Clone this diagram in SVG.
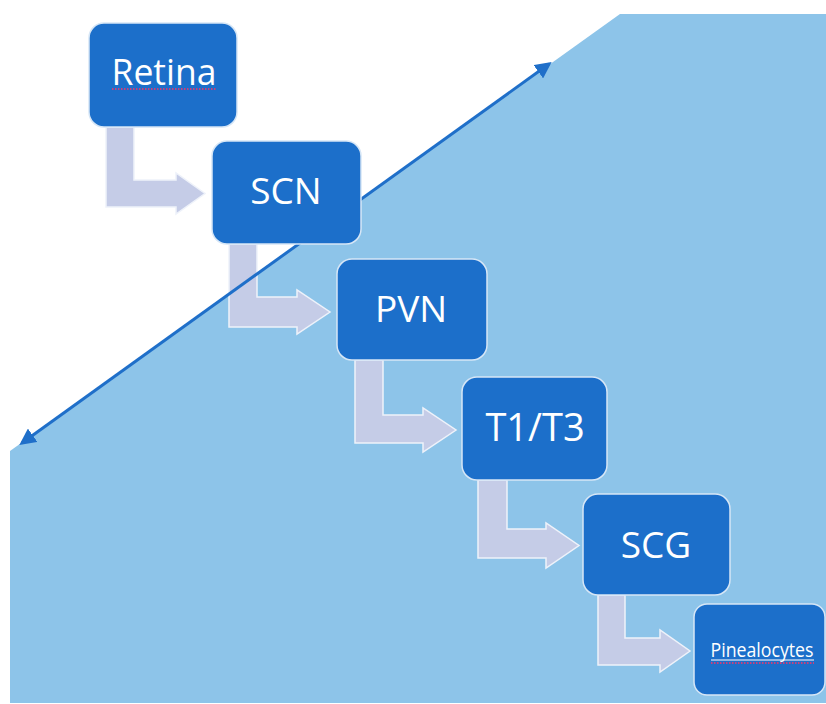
<svg xmlns="http://www.w3.org/2000/svg" width="826" height="704" viewBox="0 0 826 704">
<defs>
<style>
.bg{fill:#8dc4e9;}
.box{fill:#1c6fca;stroke:#d6e6f6;stroke-width:1.5;}
.lbl{font-family:"Open Sans","Liberation Sans",sans-serif;fill:#ffffff;text-anchor:middle;}
.big{font-size:37px;}
.small{font-size:20px;}
.elbow{fill:#c5cce7;stroke:#eef2fa;stroke-width:1.5;stroke-linejoin:miter;}
.axis{stroke:#1f6fc9;stroke-width:3;fill:none;}
.wavy{stroke:#c8407c;stroke-width:2;stroke-dasharray:1.5 1.5;}
.uline{stroke:#ffffff;stroke-width:1.2;}
</style>
<marker id="ah" viewBox="0 0 10 10" refX="8" refY="5" markerWidth="5.5" markerHeight="5.5" orient="auto-start-reverse" markerUnits="strokeWidth">
<path d="M0,0 L10,5 L0,10 Z" fill="#1f6fc9"/>
</marker>
</defs>
<rect width="826" height="704" fill="#ffffff"/>
<polygon class="bg" points="10,451 620,14 826,14 826,703 10,703"/>
<g id="connectors">
<path class="elbow" d="M106,127 H134 V180 H176 V173 L205,193.5 L176,214 V207 H106 Z"/>
<path class="elbow" d="M229,244 H257 V297 H297 V290 L330,312 L297,334 V327 H229 Z"/>
<path class="elbow" d="M355,360 H383 V415 H423 V408 L456,430 L423,452 V443 H355 Z"/>
<path class="elbow" d="M478,480 H507 V529 H546 V523 L579,545.5 L546,568 V558 H478 Z"/>
<path class="elbow" d="M598,595 H625 V638 H660 V630 L690,651 L660,672 V665 H598 Z"/>
<line class="axis" x1="22" y1="443" x2="549" y2="64" marker-start="url(#ah)" marker-end="url(#ah)"/>
</g>
<g id="retina">
<rect class="box" x="89" y="23" width="148" height="104" rx="15"/>
<text class="lbl big" x="164" y="85" textLength="105" lengthAdjust="spacingAndGlyphs">Retina</text>
<line class="wavy" x1="112" y1="89" x2="217" y2="89"/>
</g>
<g id="scn">
<rect class="box" x="212" y="141" width="149" height="103" rx="15"/>
<text class="lbl big" x="286" y="204">SCN</text>
</g>
<g id="pvn">
<rect class="box" x="337" y="259" width="150" height="101" rx="15"/>
<text class="lbl big" x="411" y="322">PVN</text>
</g>
<g id="t1t3">
<rect class="box" x="462" y="377" width="145" height="103" rx="15"/>
<text class="lbl big" x="535" y="441" style="font-size:38px">T1/T3</text>
</g>
<g id="scg">
<rect class="box" x="583" y="494" width="147" height="101" rx="15"/>
<text class="lbl big" x="656" y="558">SCG</text>
</g>
<g id="pinealocytes">
<rect class="box" x="694" y="604" width="131" height="91" rx="13"/>
<text class="lbl small" x="762" y="657" textLength="103" lengthAdjust="spacingAndGlyphs">Pinealocytes</text>
<line class="uline" x1="711" y1="660" x2="814" y2="660"/>
<line class="wavy" x1="711" y1="663" x2="814" y2="663"/>
</g>
</svg>
